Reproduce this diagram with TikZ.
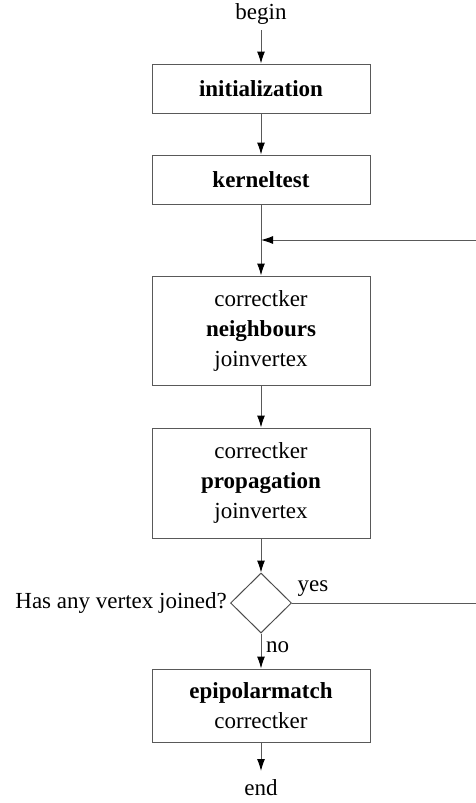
\documentclass[tikz,border=0pt]{standalone}
\usepackage{fontspec}
\setmainfont{Liberation Serif}
\usetikzlibrary{arrows.meta,shapes.geometric}
\begin{document}
\begin{tikzpicture}[x=1pt,y=-1pt,
  every node/.style={font=\fontsize{23}{30}\selectfont, inner sep=0pt},
  stepbox/.style={draw=black!65, line width=1pt, minimum width=218pt, align=center},
  flow/.style={draw=black!65, line width=1pt, -{Latex[length=12pt,width=8pt,black]}},
  plain/.style={draw=black!65, line width=1pt},
  decision/.style={diamond, draw=black!70, line width=1pt, minimum width=61pt, minimum height=60pt, aspect=1}]
  \useasboundingbox (0,0) rectangle (475,803);

  \node (begin) at (261,14) {begin};
  \node[stepbox, minimum height=49pt] (init) at (261,88.5) {\textbf{initialization}};
  \node[stepbox, minimum height=49pt] (kernel) at (261,179.5) {\textbf{kerneltest}};
  \node[stepbox, minimum height=109pt] (neigh) at (261,330.5)
    {correctker\\\textbf{neighbours}\\joinvertex};
  \node[stepbox, minimum height=110pt] (prop) at (261,483)
    {correctker\\\textbf{propagation}\\joinvertex};
  \node[decision] (test) at (261,603) {};
  \node[anchor=east] (question) at ([xshift=-3pt]test.west) {Has any vertex joined?};
  \node (yes) at (313,589) {yes};
  \node (no) at (277.5,647) {no};
  \node[stepbox, minimum height=73pt] (epi) at (261,705.5)
    {\textbf{epipolarmatch}\\correctker};
  \node (end) at (261,788) {end};

  \coordinate (join) at (261,240);
  \coordinate (rtop) at (478,240);
  \coordinate (rbot) at (478,603);

  \draw[flow] (261,30) -- (init.north);
  \draw[flow] (init) -- (kernel);
  \draw[plain] (kernel.south) -- (join);
  \draw[flow] (join) -- (neigh.north);
  \draw[flow] (neigh) -- (prop);
  \draw[flow] (prop.south) -- (test.north);
  \draw[flow] (test.south) -- (epi.north);
  \draw[flow] (epi.south) -- (261,771);
  \draw[plain] (test.east) -- (rbot) -- (rtop);
  \draw[flow] (rtop) -- (join);
\end{tikzpicture}
\end{document}
